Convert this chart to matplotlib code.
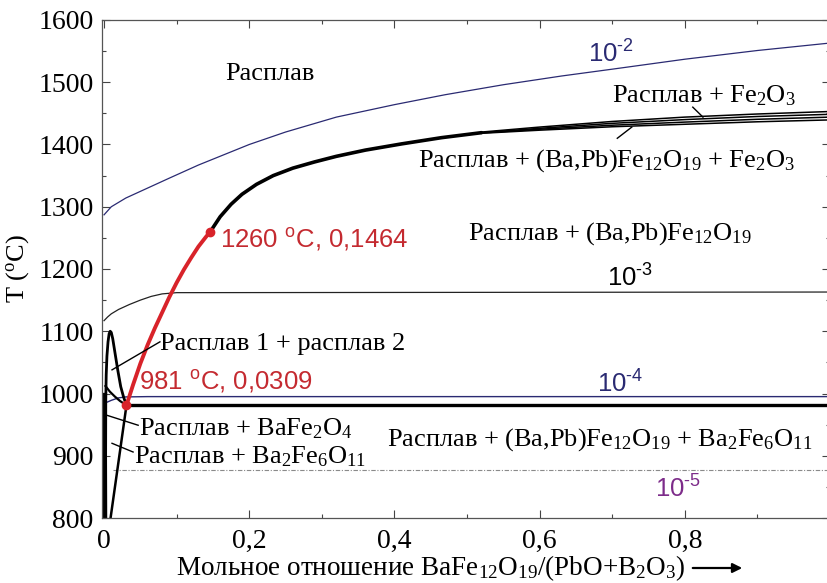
import matplotlib
matplotlib.use("Agg")
import matplotlib.pyplot as plt
from matplotlib.patches import FancyArrowPatch
from matplotlib.ticker import MultipleLocator, FixedLocator, FixedFormatter

plt.rcParams['mathtext.default'] = 'regular'
SERIF = 'Liberation Serif'
SANS = 'Liberation Sans'

# ---- data -----------------------------------------------------------------
# isobar of log p(O2) = -2
iso2_x = [0.0, 0.01, 0.03, 0.06, 0.09, 0.13, 0.2, 0.25, 0.32, 0.4, 0.47, 0.55, 0.63, 0.7, 0.8, 0.9, 1.0]
iso2_T = [1287, 1300, 1314, 1330, 1346, 1367, 1400, 1420, 1444, 1464, 1480, 1496, 1510, 1521, 1537, 1551, 1563]

# isobar 10^-3
iso3_x = [0.0, 0.005, 0.01, 0.02, 0.035, 0.05, 0.065, 0.08, 0.1, 1.0]
iso3_T = [1117, 1123, 1128, 1135, 1143, 1150, 1156, 1160, 1162, 1163]

# isobar 10^-4
iso4_x = [0.0, 0.01, 0.02, 0.03, 0.06, 1.0]
iso4_T = [984, 989, 993, 994.5, 995, 995]

# isobar 10^-5
iso5_x = [0.012, 1.0]
iso5_T = [877, 877]

# liquidus of (Ba,Pb)Fe12O19 between the two marked points
red_x = [0.0309, 0.04, 0.05, 0.06, 0.07, 0.08, 0.09, 0.10, 0.11, 0.12, 0.13, 0.14, 0.1464]
red_T = [981, 1014, 1048, 1078, 1105, 1130, 1155, 1178, 1199, 1218, 1236, 1251, 1260]
pts_x = [0.0309, 0.1464]
pts_T = [981, 1260]

# liquidus above 0.1464
liq_x = [0.1464, 0.16, 0.175, 0.19, 0.21, 0.233, 0.26, 0.29, 0.32, 0.36, 0.41, 0.465, 0.52]
liq_T = [1260, 1284, 1304, 1320, 1336, 1350, 1362, 1372, 1381, 1391, 1401, 1411, 1419]

# Fe2O3 field boundaries at high ratio
band_x = [0.52, 0.6, 0.7, 0.8, 0.9, 1.0]
band_T1 = [1420, 1428, 1437, 1444, 1449, 1453]
band_T2 = [1419, 1426, 1434, 1440, 1445, 1448.5]
band_T3 = [1418.5, 1424.5, 1431, 1436, 1440.5, 1444]
band_T4 = [1418, 1423, 1428.5, 1432.5, 1436.5, 1439.5]

# eutectic isotherm
eut_x = [0.0309, 1.0]
eut_T = [981, 981]

# boron-rich corner: two-liquid dome and neighbouring boundaries
dome_x = [0.0025, 0.0022, 0.0024, 0.003, 0.004, 0.0055, 0.007, 0.0085, 0.010, 0.012, 0.015, 0.019, 0.023, 0.027, 0.0309]
dome_T = [800, 900, 990, 1030, 1060, 1083, 1096, 1100, 1098, 1088, 1066, 1037, 1011, 994, 981]
bf2_x = [0.002, 0.008, 0.015, 0.022, 0.0309]
bf2_T = [1012, 1003, 995, 988, 981]
b2f6_x = [0.009, 0.0309]
b2f6_T = [800, 981]
axis0_x = [0.0, 0.0]
axis0_T = [800, 1000]

x_major = [0, 0.2, 0.4, 0.6, 0.8, 1.0]
x_labels = ['0', '0,2', '0,4', '0,6', '0,8', '']
y_major = [800, 900, 1000, 1100, 1200, 1300, 1400, 1500, 1600]

# ---- figure ---------------------------------------------------------------
fig = plt.figure(figsize=(8.28, 5.83), dpi=100)
ax = fig.add_axes([102 / 828, 65 / 583, 728 / 828, 498 / 583])
ax.set_xlim(-0.0028, 1.0)
ax.set_ylim(800, 1600)

navy = '#2a2a72'
red = '#d8232a'

ax.plot(iso2_x, iso2_T, color=navy, lw=0.9)
ax.plot(iso3_x, iso3_T, color='#222222', lw=0.9)
ax.plot(iso4_x, iso4_T, color=navy, lw=1.0)
ax.plot(iso5_x, iso5_T, color='#8a8a8a', lw=0.8, ls=(0, (4, 1.5, 1, 1.5)))

ax.plot(liq_x, liq_T, color='black', lw=2.6, solid_capstyle='round')
for bt in (band_T1, band_T2, band_T3, band_T4):
    ax.plot(band_x, bt, color='black', lw=1.1)

ax.plot(eut_x, eut_T, color='black', lw=2.4)
ax.plot(dome_x, dome_T, color='black', lw=2.0)
ax.plot(bf2_x, bf2_T, color='black', lw=1.6)
ax.plot(b2f6_x, b2f6_T, color='black', lw=1.8)
ax.plot(axis0_x, axis0_T, color='black', lw=2.4)

ax.plot(red_x, red_T, color=red, lw=2.8, solid_capstyle='round')
ax.plot(pts_x, pts_T, 'o', color=red, ms=6)

# leader lines from labels to their fields
leaders = [
    ([0.811, 0.825], [1460, 1444]),
    ([0.707, 0.727], [1410, 1428]),
    ([0.077, 0.011], [1083, 1038]),
    ([0.047, 0.004], [949, 965]),
    ([0.040, 0.011], [906, 920]),
]
for lx, ly in leaders:
    ax.plot(lx, ly, color='black', lw=1.0)

# ---- labels ---------------------------------------------------------------
fs = 19
def stxt(x, y, s, **kw):
    ax.text(x, y, s, family=SERIF, fontsize=fs, va='baseline', **kw)

stxt(0.229, 1503, 'Расплав', ha='center')
stxt(0.70, 1467, 'Расплав + Fe$_2$O$_3$', ha='left')
stxt(0.4325, 1364, 'Расплав + (Ba,Pb)Fe$_{12}$O$_{19}$ + Fe$_2$O$_3$', ha='left')
stxt(0.501, 1247, 'Расплав + (Ba,Pb)Fe$_{12}$O$_{19}$', ha='left')
stxt(0.077, 1070, 'Расплав 1 + расплав 2', ha='left')
stxt(0.048, 933, 'Расплав + BaFe$_2$O$_4$', ha='left')
stxt(0.39, 917, 'Расплав + (Ba,Pb)Fe$_{12}$O$_{19}$ + Ba$_2$Fe$_6$O$_{11}$', ha='left')
stxt(0.041, 888, 'Расплав + Ba$_2$Fe$_6$O$_{11}$', ha='left')

def ntxt(x, y, s, color):
    ax.text(x, y, s, family=SANS, fontsize=18.5, va='baseline', ha='left', color=color)

ntxt(0.667, 1531, '10$^{\u20102}$', navy)
ntxt(0.693, 1171, '10$^{\u20103}$', 'black')
ntxt(0.679, 1001, '10$^{\u20104}$', navy)
ntxt(0.759, 832, '10$^{\u20105}$', '#7d2c8a')
ntxt(0.160, 1235, '1260 $^{o}$C, 0,1464', '#c42a30')
ntxt(0.048, 1006, '981 $^{o}$C, 0,0309', '#c42a30')

# ---- axes styling ---------------------------------------------------------
ax.xaxis.set_major_locator(FixedLocator(x_major))
ax.xaxis.set_major_formatter(FixedFormatter(x_labels))
ax.xaxis.set_minor_locator(MultipleLocator(0.1))
ax.yaxis.set_major_locator(FixedLocator(y_major))
ax.yaxis.set_minor_locator(MultipleLocator(50))
ax.tick_params(which='both', direction='in', top=True, right=True,
               color='#444444', width=0.8)
ax.tick_params(which='major', length=6)
ax.tick_params(which='minor', length=3)
ax.tick_params(axis='x', pad=8)
ax.tick_params(axis='y', pad=6)
for lab in ax.get_xticklabels() + ax.get_yticklabels():
    lab.set_family(SERIF)
    lab.set_fontsize(20)
for sp in ax.spines.values():
    sp.set_color('#555555')
    sp.set_linewidth(0.9)

ax.set_ylabel('T ($^{o}$C)', family=SERIF, fontsize=19)
ax.yaxis.set_label_coords(-0.098, 0.5)

fig.text(431 / 828, 1 - 575 / 583,
         'Мольное отношение BaFe$_{12}$O$_{19}$/(PbO+B$_2$O$_3$)',
         family=SERIF, fontsize=19.5, ha='center', va='baseline')
fig.add_artist(FancyArrowPatch(
    (690 / 828, 1 - 568 / 583), (745 / 828, 1 - 568 / 583),
    transform=fig.transFigure, arrowstyle='-|>', mutation_scale=14,
    color='black', lw=1.6))

fig.savefig('out.png', dpi=100)
